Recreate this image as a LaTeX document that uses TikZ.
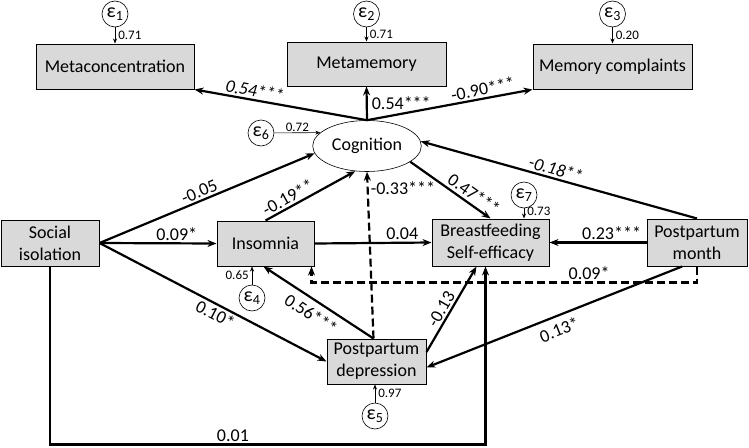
\documentclass[tikz,border=0pt]{standalone}
\usepackage{fontspec}
\setmainfont{Carlito}
\usetikzlibrary{arrows.meta,shapes.geometric}
\definecolor{boxgray}{RGB}{217,217,217}

\begin{document}
\begin{tikzpicture}[x=1pt,y=-1pt,
    var/.style={draw,fill=boxgray,line width=1pt,minimum height=45pt,align=center,inner sep=1pt,font=\fontsize{18}{22}\selectfont},
    err/.style={circle,draw,line width=0.6pt,minimum size=26pt,inner sep=0pt,font=\fontsize{20}{20}\selectfont},
    arr/.style={-{Stealth[length=9pt,width=7pt]},line width=2.2pt},
    earr/.style={-{Stealth[length=5pt,width=4pt]},line width=0.6pt},
    coef/.style={font=\fontsize{18}{18}\selectfont,inner sep=2pt},
    errlab/.style={font=\fontsize{13}{13}\selectfont,inner sep=1pt},
    dsh/.style={dash pattern=on 8pt off 4pt}]
    \useasboundingbox (0,0) rectangle (749,447);
        \node[var,minimum width=158pt] (metac) at (115,66.5) {Metaconcentration};
        \node[var,minimum width=159pt,minimum height=44pt] (metam) at (366.5,64) {Metamemory};
        \node[var,minimum width=159pt] (memc) at (612.5,66.5) {Memory complaints};
        \node[ellipse,draw,line width=0.6pt,minimum width=102pt,minimum height=51pt,font=\fontsize{18}{22}\selectfont] (cog) at (367,146) {Cognition};
        \node[var,minimum width=98pt,minimum height=46pt] (soc) at (50,243) {Social\\isolation};
        \node[var,minimum width=97pt] (ins) at (265.5,243.5) {Insomnia};
        \node[var,minimum width=117pt,minimum height=47pt] (bse) at (490.5,242.5) {Breastfeeding\\Self-efficacy};
        \node[var,minimum width=100pt,minimum height=47pt] (pm) at (697,242.5) {Postpartum\\month};
        \node[var,minimum width=99pt] (pd) at (376.5,361.5) {Postpartum\\depression};
        \node[err] (e1) at (115,14) {ε\textsubscript{1}};
        \node[err] (e2) at (366.5,14) {ε\textsubscript{2}};
        \node[err] (e3) at (612.5,14) {ε\textsubscript{3}};
        \node[err] (e6) at (261,133) {ε\textsubscript{6}};
        \node[err] (e7) at (524,195) {ε\textsubscript{7}};
        \node[err] (e4) at (252,298) {ε\textsubscript{4}};
        \node[err] (e5) at (375,416) {ε\textsubscript{5}};
            \draw[earr] (e1) -- (metac.north -| e1) node[errlab,midway,right=2pt] {0.71};
            \draw[earr] (e2) -- (metam.north -| e2) node[errlab,midway,right=2pt] {0.71};
            \draw[earr] (e3) -- (memc.north -| e3) node[errlab,midway,right=2pt] {0.20};
            \draw[earr] (e6) -- (cog.164) node[errlab,midway,above] {0.72};
            \draw[earr] (e7) -- (bse.north -| e7) node[errlab,pos=0.3,right=2pt] {0.73};
            \draw[earr] (e4) -- (ins.south -| e4) node[errlab,midway,left=2pt] {0.65};
            \draw[earr] (e5) -- (pd.south -| e5) node[errlab,midway,right=2pt] {0.97};
            \draw[arr] (cog.north) -- (metac.south east)
                node[coef,pos=0.66,above,sloped] {\itshape 0.54***};
            \draw[arr] (cog.north) -- (metam.south)
                node[coef,midway,right,xshift=2pt] {0.54***};
            \draw[arr] (cog.north) -- (memc.south west)
                node[coef,pos=0.71,above,sloped] {-0.90***};
            \draw[arr] (soc.east) -- (cog.188)
                node[coef,pos=0.48,above,sloped] {-0.05};
            \draw[arr] (soc.east) -- (ins.west)
                node[coef,pos=0.66,above] {0.09*};
            \draw[arr] (soc.east) -- (pd.west)
                node[coef,pos=0.53,below,sloped] {0.10*};
            \draw[arr] (ins.north) -- (cog.245)
                node[coef,pos=0.3,above,sloped] {-0.19**};
            \draw[arr] (ins.east) -- (bse.west)
                node[coef,pos=0.75,above] {0.04};
            \draw[arr] (cog.-20) -- (bse.north)
                node[coef,pos=0.72,above=1pt,sloped] {0.47***};
            \draw[arr] (pm.north) -- (cog.5)
                node[coef,pos=0.52,above,sloped] {\itshape -0.18**};
            \draw[arr] (pm.west) -- (bse.east)
                node[coef,pos=0.36,above] {0.23***};
            \draw[arr,dsh] (pm.south) -- ++(0,16) -| ([xshift=-3pt]ins.south east)
                node[coef,pos=0.14,above] {0.09*};
            \draw[arr] ([xshift=-15pt]pm.south) -- ([yshift=-6pt]pd.east)
                node[coef,pos=0.5,below=4pt,sloped] {0.13*};
            \draw[arr] ([xshift=-3pt]pd.north) -- ([xshift=-2pt]ins.south)
                node[coef,pos=0.5,below=4pt,sloped] {0.56***};
            \draw[arr,dsh] ([xshift=-3pt]pd.north) -- (cog.south)
                node[coef,pos=0.9,right] {-0.33***};
            \draw[arr] ([yshift=9.5pt]pd.east) -- ([xshift=-14pt]bse.south)
                node[coef,pos=0.45,above,sloped] {-0.13};
            \draw[arr] (soc.south) -- ++(0,178) -| ([xshift=-5pt]bse.south)
                node[coef,pos=0.21,above] {0.01};
    \end{tikzpicture}
\end{document}
